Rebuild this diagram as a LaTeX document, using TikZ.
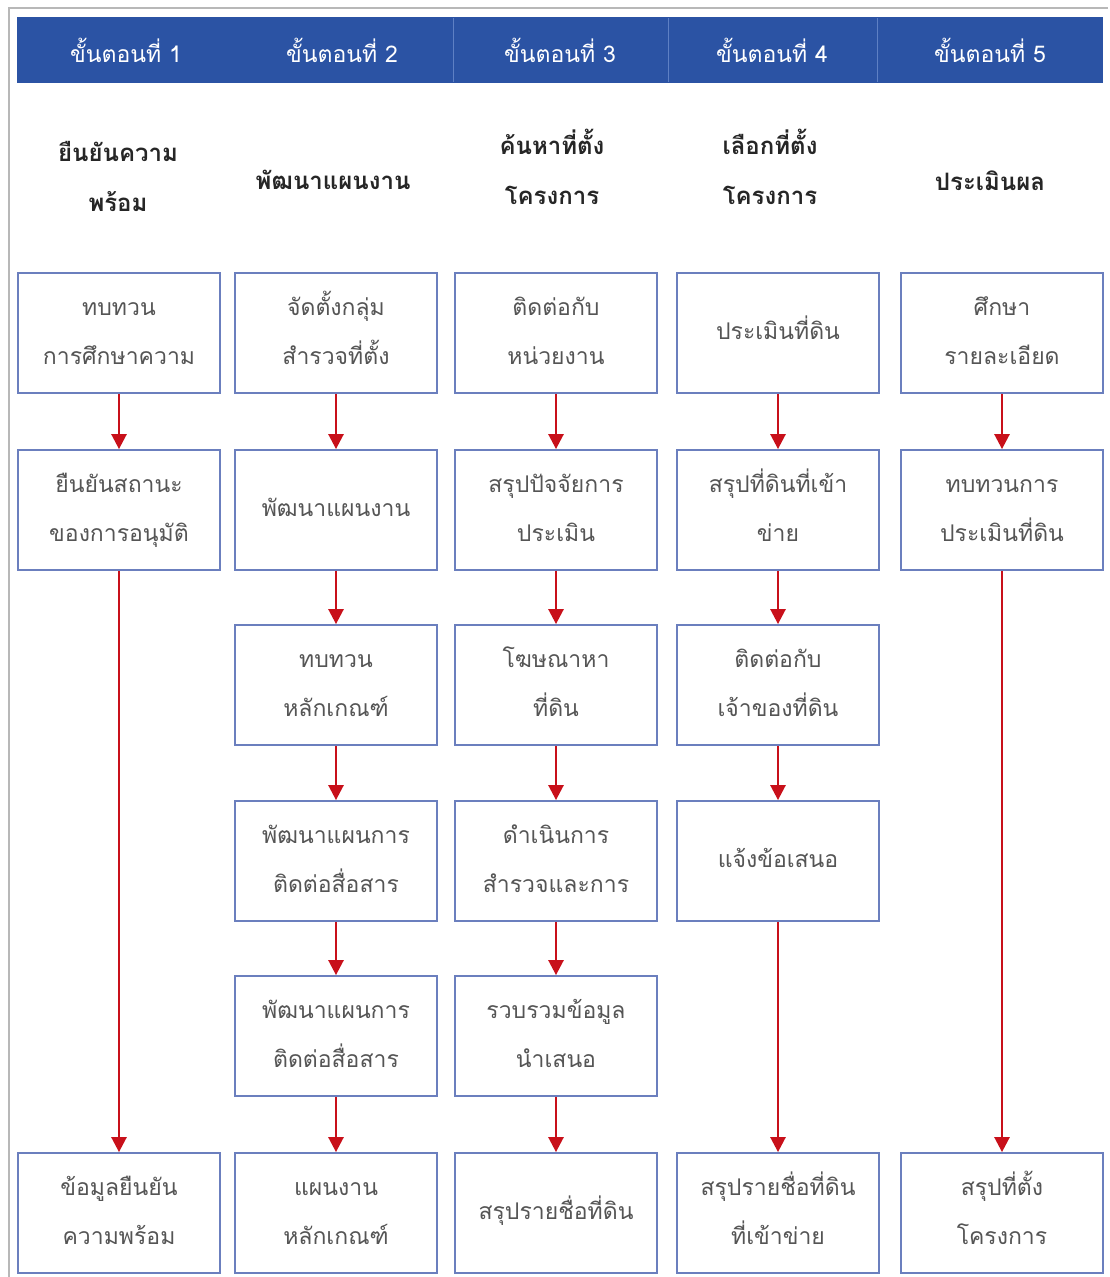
\documentclass[tikz,border=0pt]{standalone}
\usepackage{fontspec}
\newfontfamily\thai[Script=Thai]{Loma}
\usetikzlibrary{arrows.meta}
\definecolor{hdrblue}{HTML}{2B53A4}
\definecolor{sepblue}{HTML}{5E80C4}
\definecolor{boxline}{HTML}{6B7FBE}
\definecolor{arrred}{HTML}{C8101A}
\definecolor{txtgray}{HTML}{555555}
\definecolor{frame}{HTML}{B8B8B8}
\newcommand\twoln[2]{\vbox{\hbox to 0pt{\hss\rule{0pt}{28pt}#1\hss}\hbox to 0pt{\hss#2\rule[-15pt]{0pt}{15pt}\hss}}}
\newcommand\oneln[1]{\hbox{\rule{0pt}{28pt}#1\rule[-15pt]{0pt}{15pt}}}
\tikzset{
  stepbox/.style={draw=boxline, line width=1.8pt, fill=white, minimum width=202pt, minimum height=120pt,
    inner sep=0pt, text=txtgray, font=\thai\fontsize{23}{49}\selectfont},
  hdrtext/.style={text=white, font=\thai\fontsize{23}{30}\selectfont, inner sep=0pt},
  subtext/.style={text=black!85, inner sep=0pt, font=\thai\bfseries\fontsize{24}{50}\selectfont},
  flow/.style={draw=arrred, line width=2.6pt, -{Triangle[width=15pt,length=15pt]}}
}
\begin{document}
\begin{tikzpicture}[x=1pt,y=-1pt]
\useasboundingbox (0,0) rectangle (1110,1277);
\fill[white] (0,0) rectangle (1110,1277);
% outer frame
\draw[frame, line width=1.5pt] (9,1277) -- (9,8) -- (1108,8);
% header band
\fill[hdrblue] (17,17) rectangle (1103,83);
\foreach \xs in {453,668,877} \draw[sepblue, line width=0.8pt] (\xs,18) -- (\xs,82);
\node[hdrtext] (h1) at (126,50) {ขั้นตอนที่ 1};
\node[hdrtext] (h2) at (342,50) {ขั้นตอนที่ 2};
\node[hdrtext] (h3) at (560,50) {ขั้นตอนที่ 3};
\node[hdrtext] (h4) at (772,50) {ขั้นตอนที่ 4};
\node[hdrtext] (h5) at (990,50) {ขั้นตอนที่ 5};
% subtitles
\node[subtext] (s1) at (118,180) {\twoln{ยืนยันความ}{พร้อม}};
\node[subtext] (s2) at (333,183) {\oneln{พัฒนาแผนงาน}};
\node[subtext] (s3) at (552,173) {\twoln{ค้นหาที่ตั้ง}{โครงการ}};
\node[subtext] (s4) at (770,173) {\twoln{เลือกที่ตั้ง}{โครงการ}};
\node[subtext] (s5) at (990,184) {\oneln{ประเมินผล}};
% column 1
\node[stepbox] (a1) at (119,333) {\twoln{ทบทวน}{การศึกษาความ}};
\node[stepbox] (a2) at (119,510) {\twoln{ยืนยันสถานะ}{ของการอนุมัติ}};
\node[stepbox] (a6) at (119,1213) {\twoln{ข้อมูลยืนยัน}{ความพร้อม}};
% column 2
\node[stepbox] (b1) at (336,333) {\twoln{จัดตั้งกลุ่ม}{สำรวจที่ตั้ง}};
\node[stepbox] (b2) at (336,510) {\oneln{พัฒนาแผนงาน}};
\node[stepbox] (b3) at (336,685) {\twoln{ทบทวน}{หลักเกณฑ์}};
\node[stepbox] (b4) at (336,861) {\twoln{พัฒนาแผนการ}{ติดต่อสื่อสาร}};
\node[stepbox] (b5) at (336,1036) {\twoln{พัฒนาแผนการ}{ติดต่อสื่อสาร}};
\node[stepbox] (b6) at (336,1213) {\twoln{แผนงาน}{หลักเกณฑ์}};
% column 3
\node[stepbox] (c1) at (556,333) {\twoln{ติดต่อกับ}{หน่วยงาน}};
\node[stepbox] (c2) at (556,510) {\twoln{สรุปปัจจัยการ}{ประเมิน}};
\node[stepbox] (c3) at (556,685) {\twoln{โฆษณาหา}{ที่ดิน}};
\node[stepbox] (c4) at (556,861) {\twoln{ดำเนินการ}{สำรวจและการ}};
\node[stepbox] (c5) at (556,1036) {\twoln{รวบรวมข้อมูล}{นำเสนอ}};
\node[stepbox] (c6) at (556,1213) {\oneln{สรุปรายชื่อที่ดิน}};
% column 4
\node[stepbox] (d1) at (778,333) {\oneln{ประเมินที่ดิน}};
\node[stepbox] (d2) at (778,510) {\twoln{สรุปที่ดินที่เข้า}{ข่าย}};
\node[stepbox] (d3) at (778,685) {\twoln{ติดต่อกับ}{เจ้าของที่ดิน}};
\node[stepbox] (d4) at (778,861) {\oneln{แจ้งข้อเสนอ}};
\node[stepbox] (d6) at (778,1213) {\twoln{สรุปรายชื่อที่ดิน}{ที่เข้าข่าย}};
% column 5
\node[stepbox] (e1) at (1002,333) {\twoln{ศึกษา}{รายละเอียด}};
\node[stepbox] (e2) at (1002,510) {\twoln{ทบทวนการ}{ประเมินที่ดิน}};
\node[stepbox] (e6) at (1002,1213) {\twoln{สรุปที่ตั้ง}{โครงการ}};
% arrows
\draw[flow] (a1) -- (a2);
\draw[flow] (a2) -- (a6);
\draw[flow] (b1) -- (b2);
\draw[flow] (b2) -- (b3);
\draw[flow] (b3) -- (b4);
\draw[flow] (b4) -- (b5);
\draw[flow] (b5) -- (b6);
\draw[flow] (c1) -- (c2);
\draw[flow] (c2) -- (c3);
\draw[flow] (c3) -- (c4);
\draw[flow] (c4) -- (c5);
\draw[flow] (c5) -- (c6);
\draw[flow] (d1) -- (d2);
\draw[flow] (d2) -- (d3);
\draw[flow] (d3) -- (d4);
\draw[flow] (d4) -- (d6);
\draw[flow] (e1) -- (e2);
\draw[flow] (e2) -- (e6);
\end{tikzpicture}
\end{document}
